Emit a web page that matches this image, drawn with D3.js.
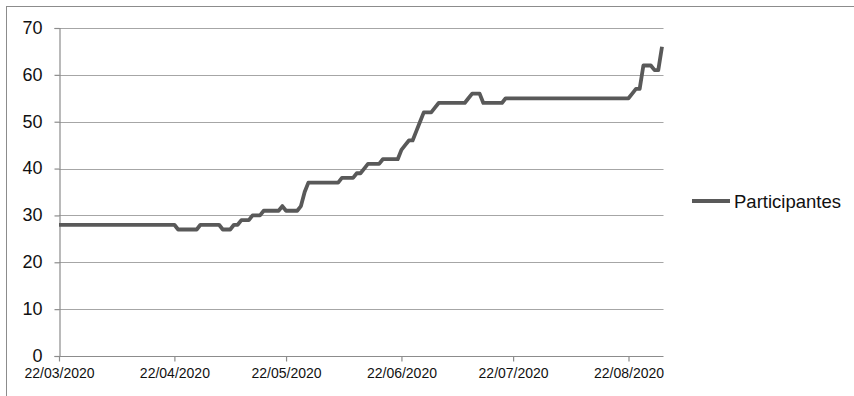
<!DOCTYPE html>
<html>
<head>
<meta charset="utf-8">
<script src="https://cdn.jsdelivr.net/npm/d3@7/dist/d3.min.js"></script>
<style>
  html, body { margin: 0; padding: 0; background: #ffffff; }
  svg { display: block; font-family: "Liberation Sans", Arial, sans-serif; }
</style>
</head>
<body>
<svg id="chart" width="854" height="396"></svg>
<script>
// Daily count of participants, one value per day starting on 22/03/2020
const startDate = [2020, 2, 22];
const participantes = [
  28, 28, 28, 28, 28, 28, 28, 28, 28, 28,
  28, 28, 28, 28, 28, 28, 28, 28, 28, 28,
  28, 28, 28, 28, 28, 28, 28, 28, 28, 28,
  28, 28, 27, 27, 27, 27, 27, 27, 28, 28,
  28, 28, 28, 28, 27, 27, 27, 28, 28, 29,
  29, 29, 30, 30, 30, 31, 31, 31, 31, 31,
  32, 31, 31, 31, 31, 32, 35, 37, 37, 37,
  37, 37, 37, 37, 37, 37, 38, 38, 38, 38,
  39, 39, 40, 41, 41, 41, 41, 42, 42, 42,
  42, 42, 44, 45, 46, 46, 48, 50, 52, 52,
  52, 53, 54, 54, 54, 54, 54, 54, 54, 54,
  55, 56, 56, 56, 54, 54, 54, 54, 54, 54,
  55, 55, 55, 55, 55, 55, 55, 55, 55, 55,
  55, 55, 55, 55, 55, 55, 55, 55, 55, 55,
  55, 55, 55, 55, 55, 55, 55, 55, 55, 55,
  55, 55, 55, 55, 56, 57, 57, 62, 62, 62,
  61, 61, 66
];
const seriesName = "Participantes";
const xTickLabels = ["22/03/2020", "22/04/2020", "22/05/2020", "22/06/2020", "22/07/2020", "22/08/2020"];
const yTicks = [0, 10, 20, 30, 40, 50, 60, 70];

const svg = d3.select("#chart");
const plotLeft = 59, plotRight = 662, plotTop = 28, plotBottom = 356;

const t0 = new Date(Date.UTC(startDate[0], startDate[1], startDate[2]));
const points = participantes.map((v, i) => ({ date: d3.utcDay.offset(t0, i), value: v }));
const parseTick = d3.utcParse("%d/%m/%Y");
const fmtTick = d3.utcFormat("%d/%m/%Y");
const tickDates = xTickLabels.map(parseTick);

const x = d3.scaleUtc()
  .domain([t0, points[points.length - 1].date])
  .range([plotLeft, plotRight]);
const y = d3.scaleLinear().domain([0, 70]).range([plotBottom, plotTop]);

// outer chart frame
svg.append("rect")
  .attr("x", 6.5).attr("y", 6.5)
  .attr("width", 1000).attr("height", 1000)
  .attr("fill", "none").attr("stroke", "#8c8c8c").attr("stroke-width", 1);

// horizontal gridlines
svg.append("g")
  .selectAll("line")
  .data(yTicks.filter(d => d > 0))
  .join("line")
  .attr("x1", plotLeft).attr("x2", plotRight + 1.5)
  .attr("y1", d => Math.round(y(d)) + 0.5).attr("y2", d => Math.round(y(d)) + 0.5)
  .attr("stroke", "#a6a6a6").attr("stroke-width", 1.2);

// y axis
const yAxis = svg.append("g")
  .attr("transform", `translate(${plotLeft + 0.5},0)`)
  .call(d3.axisLeft(y).tickValues(yTicks).tickSize(5).tickPadding(12).tickFormat(d3.format("d")));
yAxis.select(".domain").attr("stroke", "#8c8c8c").attr("stroke-width", 1.2);
yAxis.selectAll(".tick line").attr("stroke", "#8c8c8c").attr("stroke-width", 1.2);
yAxis.selectAll(".tick text")
  .attr("fill", "#111").attr("font-size", 18)
  .attr("dy", "0.3em")
  .attr("font-family", "Liberation Sans, Arial, sans-serif");

// x axis
const xAxis = svg.append("g")
  .attr("transform", `translate(0,${Math.round(plotBottom) + 0.5})`)
  .call(d3.axisBottom(x).tickValues(tickDates).tickFormat(fmtTick).tickSize(5).tickSizeOuter(0).tickPadding(7));
xAxis.select(".domain").attr("d", `M${plotLeft},0H${plotRight + 1.5}`).attr("stroke", "#8c8c8c").attr("stroke-width", 1.2);
xAxis.selectAll(".tick line").attr("stroke", "#8c8c8c").attr("stroke-width", 1.2);
xAxis.selectAll(".tick text")
  .attr("fill", "#111").attr("font-size", 14)
  .attr("font-family", "Liberation Sans, Arial, sans-serif");

// participant line
const line = d3.line()
  .x(d => x(d.date))
  .y(d => y(d.value));
svg.append("path")
  .datum(points)
  .attr("d", line)
  .attr("fill", "none")
  .attr("stroke", "#595959")
  .attr("stroke-width", 3.8)
  .attr("stroke-linejoin", "round")
  .attr("stroke-linecap", "butt");

// legend
const legend = svg.append("g").attr("transform", "translate(692,201)");
legend.append("line")
  .attr("x1", 0).attr("x2", 38).attr("y1", 0).attr("y2", 0)
  .attr("stroke", "#595959").attr("stroke-width", 3.8);
legend.append("text")
  .attr("x", 42).attr("y", 0).attr("dy", "0.36em")
  .attr("font-size", 18.5).attr("fill", "#111")
  .text(seriesName);
</script>
</body>
</html>
